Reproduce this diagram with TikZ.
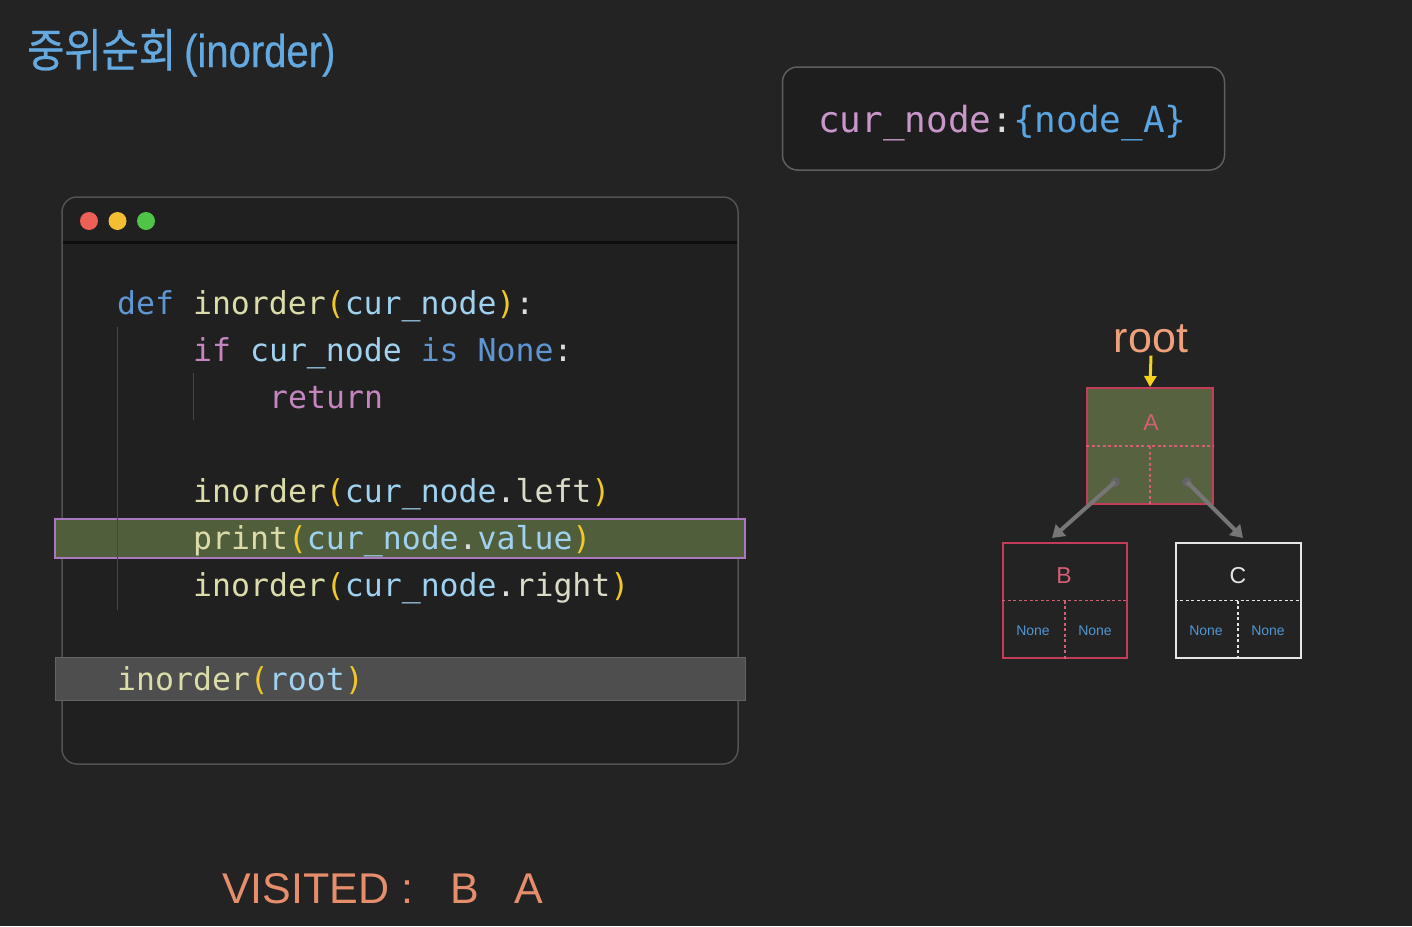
\documentclass[tikz,border=0pt]{standalone}
\usepackage{fontspec}
\usepackage{graphicx}
\setmainfont{Liberation Sans}
\newfontfamily\krfont[FakeBold=0.6]{Noto Sans CJK KR}
\newfontfamily\titlelatin[FakeBold=0.6]{Liberation Sans}
\newfontfamily\codefont{DejaVu Sans Mono}
\usetikzlibrary{arrows.meta}
\definecolor{bgc}{RGB}{35,35,35}
\definecolor{codebg}{RGB}{32,32,32}
\definecolor{boxline}{RGB}{82,82,82}
\definecolor{hdrline}{RGB}{14,14,14}
\definecolor{titleblue}{RGB}{100,170,225}
\definecolor{ckw}{RGB}{95,150,210}
\definecolor{cfn}{RGB}{220,220,170}
\definecolor{cpar}{RGB}{240,200,40}
\definecolor{cvar}{RGB}{160,210,240}
\definecolor{cpunc}{RGB}{220,220,220}
\definecolor{cctl}{RGB}{197,134,192}
\definecolor{cattr}{RGB}{218,218,198}
\definecolor{hlgreen}{RGB}{80,94,60}
\definecolor{hlborder}{RGB}{170,120,190}
\definecolor{hlgray}{RGB}{78,78,78}
\definecolor{hlgrayb}{RGB}{100,100,100}
\definecolor{guidec}{RGB}{70,70,70}
\definecolor{tlred}{RGB}{236,96,88}
\definecolor{tlyellow}{RGB}{244,190,50}
\definecolor{tlgreen}{RGB}{80,196,70}
\definecolor{curbg}{RGB}{30,30,30}
\definecolor{curline}{RGB}{95,95,95}
\definecolor{curpink}{RGB}{200,150,200}
\definecolor{curblue}{RGB}{90,165,225}
\definecolor{crimson}{RGB}{195,60,90}
\definecolor{crimsondash}{RGB}{210,95,115}
\definecolor{olive}{RGB}{86,98,64}
\definecolor{nodewhite}{RGB}{230,230,230}
\definecolor{noneblue}{RGB}{80,150,210}
\definecolor{rootorange}{RGB}{238,160,122}
\definecolor{arrowyellow}{RGB}{245,210,30}
\definecolor{arrowgray}{RGB}{118,118,118}
\definecolor{visorange}{RGB}{230,142,108}
\newcommand{\tkw}[1]{\textcolor{ckw}{#1}}
\newcommand{\tfn}[1]{\textcolor{cfn}{#1}}
\newcommand{\tpar}[1]{\textcolor{cpar}{#1}}
\newcommand{\tvar}[1]{\textcolor{cvar}{#1}}
\newcommand{\tpunc}[1]{\textcolor{cpunc}{#1}}
\newcommand{\tctl}[1]{\textcolor{cctl}{#1}}
\newcommand{\tattr}[1]{\textcolor{cattr}{#1}}
\tikzset{
  codeline/.style={anchor=base west, inner sep=0pt, font=\codefont\fontsize{31.5}{31.5}\selectfont},
  light/.style={circle, inner sep=0pt, minimum size=18pt},
  guide/.style={draw=guidec, line width=1pt},
  treebox/.style={rectangle, line width=2pt, inner sep=0pt},
  dashline/.style={line width=1.5pt, dash pattern=on 3pt off 2.5pt},
  letter/.style={inner sep=0pt, font=\fontsize{23}{23}\selectfont},
  nonelbl/.style={inner sep=0pt, text=noneblue, font=\fontsize{14}{14}\selectfont},
  grayarrow/.style={draw=arrowgray, line width=4pt, -{Triangle[width=15pt,length=12pt]}},
  graydot/.style={circle, fill=arrowgray!85!black, inner sep=0pt, minimum size=10pt}
}
\begin{document}
\begin{tikzpicture}[x=1pt,y=-1pt]
\fill[bgc] (0,0) rectangle (1412,926);
\useasboundingbox (0,0) rectangle (1412,926);

% title
\node[anchor=base west, inner sep=0pt, text=titleblue, font=\fontsize{46}{46}\selectfont] (title) at (27,67)
  {{\krfont\scalebox{0.88}[1]{중위순회}}\hspace{8pt}{\titlelatin\scalebox{0.87}[1]{(inorder)}}};

% code window
\node[draw=boxline, line width=1.5pt, fill=codebg, rounded corners=15pt, minimum width=676pt, minimum height=567pt, inner sep=0pt] (codebox) at (400,480.5) {};
\draw[hdrline, line width=3pt] (63,242) -- (737,242);
\node[light, fill=tlred] (red) at (89,221) {};
\node[light, fill=tlyellow] (yellow) at (117.5,221) {};
\node[light, fill=tlgreen] (green) at (146,221) {};

% highlights
\node[draw=hlborder, line width=1.5pt, fill=hlgreen, minimum width=690pt, minimum height=39pt, inner sep=0pt] (hlprint) at (400,538.5) {};
\node[draw=hlgrayb, line width=1pt, fill=hlgray, minimum width=690pt, minimum height=43pt, inner sep=0pt] (hlroot) at (400,679) {};

% indent guides
\draw[guide] (117,327) -- (117,610);
\draw[guide] (193,373) -- (193,420);

% code
\node[codeline] (l1) at (117,314) {\tkw{def} \tfn{inorder}\tpar{(}\tvar{cur\_node}\tpar{)}\tpunc{:}};
\node[codeline] (l2) at (193,361) {\tctl{if} \tvar{cur\_node} \tkw{is} \tkw{None}\tpunc{:}};
\node[codeline] (l3) at (269,408) {\tctl{return}};
\node[codeline] (l4) at (193,502) {\tfn{inorder}\tpar{(}\tvar{cur\_node}\tpunc{.}\tattr{left}\tpar{)}};
\node[codeline] (l5) at (193,549) {\tfn{print}\tpar{(}\tvar{cur\_node}\tpunc{.}\tvar{value}\tpar{)}};
\node[codeline] (l6) at (193,596) {\tfn{inorder}\tpar{(}\tvar{cur\_node}\tpunc{.}\tattr{right}\tpar{)}};
\node[codeline] (l7) at (117,690) {\tfn{inorder}\tpar{(}\tvar{root}\tpar{)}};

% cur_node box
\node[draw=curline, line width=1.5pt, fill=curbg, rounded corners=15pt, minimum width=442pt, minimum height=103pt, inner sep=0pt] (curbox) at (1003.5,118.5) {};
\node[anchor=base west, inner sep=0pt, font=\codefont\fontsize{36}{36}\selectfont] (curtext) at (818,132)
  {\textcolor{curpink}{cur\_node}\textcolor{cpunc}{:}\textcolor{curblue}{\{node\_A\}}};

% tree
\node[anchor=base, inner sep=0pt, text=rootorange, font=\fontsize{43}{43}\selectfont] (rootlbl) at (1151,352) {root};
\node[treebox, draw=crimson, fill=olive, minimum width=126pt, minimum height=116pt] (A) at (1150,446) {};
\node[treebox, draw=crimson, fill=bgc, minimum width=124pt, minimum height=115pt] (B) at (1065,600.5) {};
\node[treebox, draw=nodewhite, fill=bgc, minimum width=125pt, minimum height=115pt] (C) at (1238,600.5) {};

\draw[dashline, draw=crimsondash] (A.west) -- (A.east);
\draw[dashline, draw=crimsondash] (A.center) -- (A.south);
\draw[dashline, draw=crimsondash] (B.west) -- (B.east);
\draw[dashline, draw=crimsondash] (B.center) -- (B.south);
\draw[dashline, draw=nodewhite] (C.west) -- (C.east);
\draw[dashline, draw=nodewhite] (C.center) -- (C.south);

\node[letter, text=crimsondash] (Alab) at (1151,423) {A};
\node[letter, text=crimsondash] (Blab) at (1064,576) {B};
\node[letter, text=nodewhite] (Clab) at (1238,576) {C};
\node[nonelbl] (B1) at (1033,631) {None};
\node[nonelbl] (B2) at (1095,631) {None};
\node[nonelbl] (C1) at (1206,631) {None};
\node[nonelbl] (C2) at (1268,631) {None};

\draw[draw=arrowyellow, line width=3pt, -{Triangle[width=12pt,length=11pt]}] (rootlbl.south) ++(0,3) -- (A.north);

\node[graydot] (dl) at (1115,482) {};
\node[graydot] (dr) at (1187,482) {};
\coordinate (tl) at (1052,538);
\coordinate (tr) at (1243,538);
\draw[grayarrow] (dl.center) -- (tl);
\draw[grayarrow] (dr.center) -- (tr);

% visited
\node[anchor=base west, inner sep=0pt, text=visorange, font=\fontsize{43}{43}\selectfont] (visited) at (222,903)
  {VISITED :\hspace{37pt}B\hspace{35pt}A};
\end{tikzpicture}
\end{document}
